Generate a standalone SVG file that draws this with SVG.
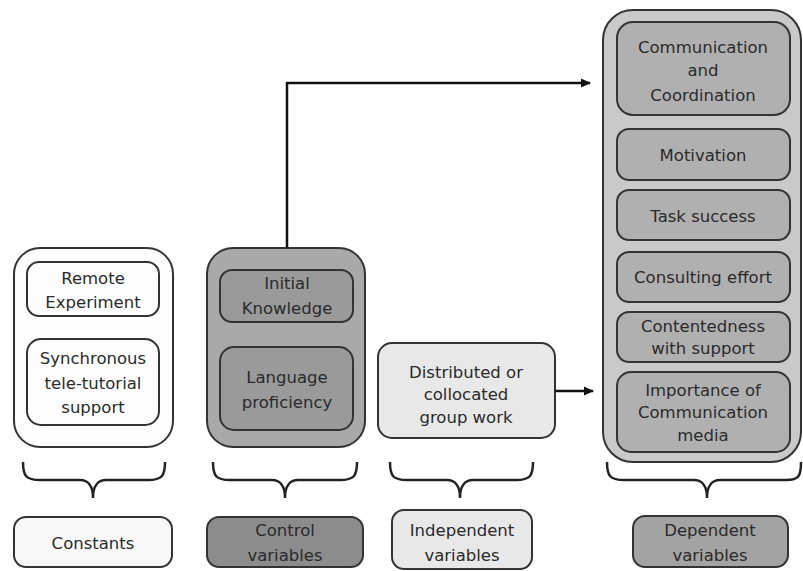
<svg xmlns="http://www.w3.org/2000/svg" width="803" height="571" viewBox="0 0 803 571">
<defs>
<marker id="ah" markerWidth="10" markerHeight="10" refX="9" refY="5" orient="auto" markerUnits="userSpaceOnUse">
<path d="M0,0.5 L10,5 L0,9.5 Z" fill="#111"/>
</marker>
</defs>
<style>
text{font-family:"DejaVu Sans","Liberation Sans",sans-serif;font-size:16.5px;fill:#2a2a2a;text-anchor:middle}
.box{stroke:#333;stroke-width:2}
.brace{fill:none;stroke:#222;stroke-width:2.5}
.conn{fill:none;stroke:#111;stroke-width:2.5}
</style>
<rect width="803" height="571" fill="#fff"/>

<g id="constants-group">
<rect class="box" x="14" y="248" width="159" height="199" rx="26" fill="#fdfdfd"/>
<g id="remote-experiment">
<rect class="box" x="27" y="262" width="132" height="54" rx="12" fill="#fdfdfd"/>
<text x="93" y="284">Remote</text><text x="93" y="308">Experiment</text>
</g>
<g id="sync-tutorial">
<rect class="box" x="27" y="339" width="132" height="86" rx="14" fill="#fdfdfd"/>
<text x="93" y="364">Synchronous</text><text x="93" y="389">tele-tutorial</text><text x="93" y="413">support</text>
</g>
</g>

<g id="control-group">
<rect class="box" x="207" y="248" width="158" height="199" rx="26" fill="#a9a9a9"/>
<g id="initial-knowledge">
<rect class="box" x="220" y="270" width="133" height="52" rx="12" fill="#9a9a9a"/>
<text x="287" y="289">Initial</text><text x="287" y="314">Knowledge</text>
</g>
<g id="language-proficiency">
<rect class="box" x="220" y="347" width="133" height="83" rx="14" fill="#9a9a9a"/>
<text x="287" y="383">Language</text><text x="287" y="408">proficiency</text>
</g>
</g>

<g id="independent-group">
<rect class="box" x="378" y="343" width="177" height="95" rx="14" fill="#e8e8e8"/>
<text x="466" y="378">Distributed or</text><text x="466" y="400">collocated</text><text x="466" y="423">group work</text>
</g>

<g id="dependent-group">
<rect class="box" x="603" y="10" width="198" height="452" rx="30" fill="#c9c9c9"/>
<g id="communication-coordination">
<rect class="box" x="617" y="22" width="173" height="93" rx="16" fill="#b0b0b0"/>
<text x="703" y="53">Communication</text><text x="703" y="76">and</text><text x="703" y="101">Coordination</text>
</g>
<g id="motivation">
<rect class="box" x="617" y="129" width="173" height="51" rx="12" fill="#b0b0b0"/>
<text x="703" y="161">Motivation</text>
</g>
<g id="task-success">
<rect class="box" x="617" y="190" width="173" height="50" rx="12" fill="#b0b0b0"/>
<text x="703" y="222">Task success</text>
</g>
<g id="consulting-effort">
<rect class="box" x="617" y="252" width="173" height="50" rx="12" fill="#b0b0b0"/>
<text x="703" y="283">Consulting effort</text>
</g>
<g id="contentedness">
<rect class="box" x="617" y="312" width="173" height="50" rx="12" fill="#b0b0b0"/>
<text x="703" y="332">Contentedness</text><text x="703" y="354">with support</text>
</g>
<g id="importance-media">
<rect class="box" x="617" y="372" width="173" height="80" rx="14" fill="#b0b0b0"/>
<text x="703" y="396">Importance of</text><text x="703" y="418">Communication</text><text x="703" y="441">media</text>
</g>
</g>

<g id="connectors">
<path class="conn" d="M287,248 L287,83 L590,83" marker-end="url(#ah)"/>
<path class="conn" d="M555,391 L593,391" marker-end="url(#ah)"/>
<path class="brace" d="M23,462 C23,476 26,480 40,480 L80,480 C88,480 93,486 93,498 C93,486 98,480 106,480 L148,480 C162,480 165,476 165,462"/>
<path class="brace" d="M213,462 C213,476 216,480 230,480 L272,480 C280,480 285,486 285,498 C285,486 290,480 298,480 L340,480 C354,480 357,476 357,462"/>
<path class="brace" d="M390,462 C390,476 393,480 407,480 L447,480 C455,480 460,486 460,498 C460,486 465,480 473,480 L516,480 C530,480 533,476 533,462"/>
<path class="brace" d="M607,462 C607,476 610,480 624,480 L694,480 C702,480 707,486 707,498 C707,486 712,480 720,480 L786,480 C799,480 801,476 801,462"/>
</g>

<g id="label-constants">
<rect class="box" x="14" y="517" width="158" height="50" rx="12" fill="#f8f8f8"/>
<text x="93" y="549">Constants</text>
</g>
<g id="label-control">
<rect class="box" x="207" y="517" width="156" height="50" rx="12" fill="#8c8c8c"/>
<text x="285" y="536">Control</text><text x="285" y="561">variables</text>
</g>
<g id="label-independent">
<rect class="box" x="392" y="510" width="140" height="59" rx="12" fill="#e8e8e8"/>
<text x="462" y="536">Independent</text><text x="462" y="561">variables</text>
</g>
<g id="label-dependent">
<rect class="box" x="633" y="516" width="155" height="51" rx="12" fill="#a3a3a3"/>
<text x="710" y="536">Dependent</text><text x="710" y="561">variables</text>
</g>
</svg>
